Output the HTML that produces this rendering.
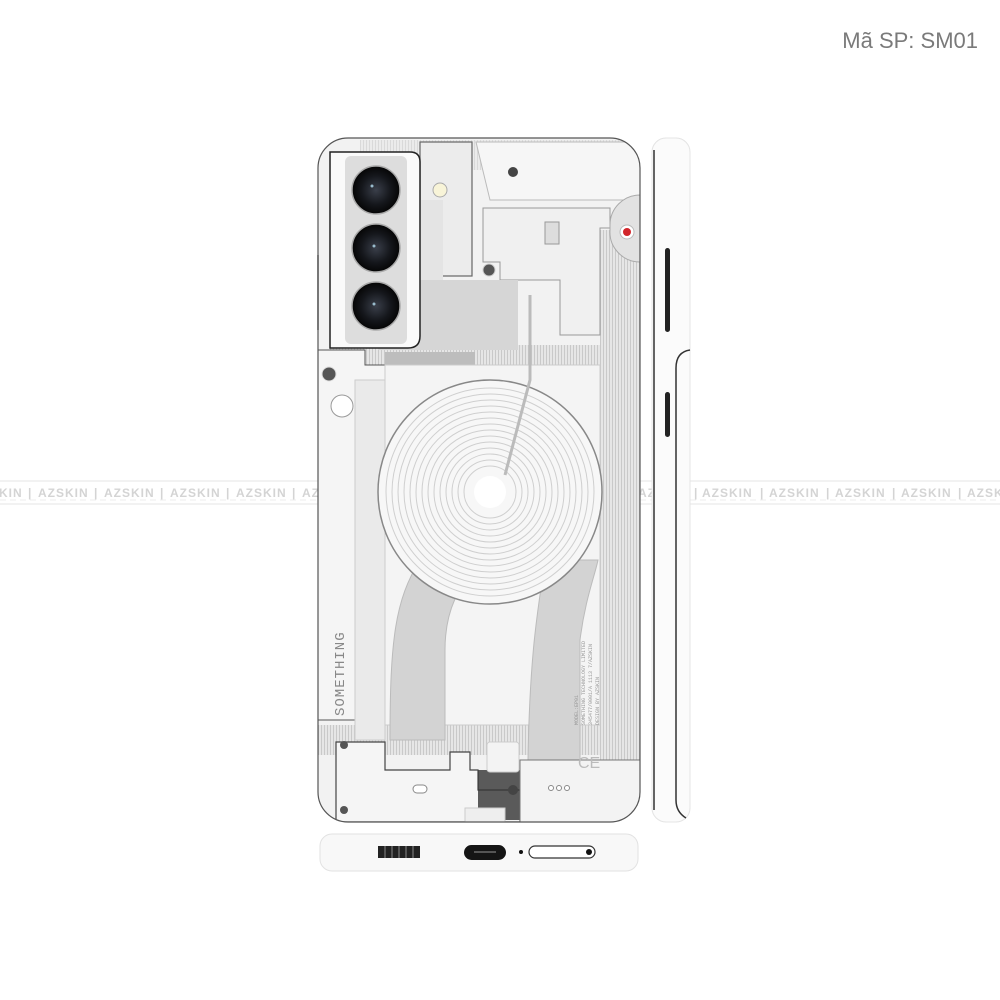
<!DOCTYPE html>
<html><head><meta charset="utf-8"><style>
html,body{margin:0;padding:0;background:#fff;width:1000px;height:1000px;overflow:hidden}
svg{display:block}
</style></head><body>
<svg width="1000" height="1000" viewBox="0 0 1000 1000" xmlns="http://www.w3.org/2000/svg" font-family="Liberation Sans, sans-serif">
<defs>
<pattern id="hatch" width="3" height="3" patternUnits="userSpaceOnUse"><rect width="3" height="3" fill="#e6e6e6"/><rect width="1" height="3" fill="#c9c9c9"/></pattern>
<radialGradient id="lens" cx="50%" cy="50%" r="50%"><stop offset="0" stop-color="#3a3f4a"/><stop offset="0.6" stop-color="#15171c"/><stop offset="1" stop-color="#050505"/></radialGradient>
<clipPath id="phone"><rect x="318" y="138" width="322" height="684" rx="30"/></clipPath>
</defs>
<!-- title -->
<text x="978" y="48" text-anchor="end" font-size="22" fill="#7a7a7a">Mã SP: SM01</text>
<!-- watermark strip -->
<line x1="0" y1="481" x2="1000" y2="481" stroke="#e6e6e6" stroke-width="1"/>
<line x1="0" y1="504" x2="1000" y2="504" stroke="#e6e6e6" stroke-width="1"/>
<line x1="0" y1="500" x2="1000" y2="500" stroke="#eeeeee" stroke-width="1" stroke-dasharray="6 4"/>
<g font-size="12" fill="#d4d4d4" font-weight="bold" letter-spacing="1">
<text x="-28" y="497">AZSKIN</text><text x="28" y="497">|</text>
<text x="38" y="497">AZSKIN</text><text x="94" y="497">|</text>
<text x="104" y="497">AZSKIN</text><text x="160" y="497">|</text>
<text x="170" y="497">AZSKIN</text><text x="226" y="497">|</text>
<text x="236" y="497">AZSKIN</text><text x="292" y="497">|</text>
<text x="302" y="497">AZSKIN</text>
<text x="638" y="497">AZSKIN</text><text x="694" y="497">|</text>
<text x="702" y="497">AZSKIN</text><text x="760" y="497">|</text>
<text x="769" y="497">AZSKIN</text><text x="826" y="497">|</text>
<text x="835" y="497">AZSKIN</text><text x="892" y="497">|</text>
<text x="901" y="497">AZSKIN</text><text x="958" y="497">|</text>
<text x="967" y="497">AZSKIN</text>
</g>
<!-- phone back -->
<g clip-path="url(#phone)">
<rect x="318" y="138" width="322" height="684" fill="#f2f2f2"/>
<rect x="600" y="230" width="40" height="600" fill="url(#hatch)"/>
<rect x="360" y="140" width="280" height="30" fill="url(#hatch)" opacity="0.6"/>
<rect x="330" y="345" width="290" height="30" fill="url(#hatch)"/>
<rect x="318" y="725" width="322" height="30" fill="url(#hatch)"/>
<path d="M476 142 H640 V200 H490 Z" fill="#f6f6f6" stroke="#bbb"/>
<path d="M483 208 H610 V228 H600 V335 H560 V280 H500 V262 H483 Z" fill="#f0f0f0" stroke="#999"/>
<rect x="545" y="222" width="14" height="22" fill="#ddd" stroke="#999"/>
<path d="M640 195 A30 30 0 0 0 610 225 V230 A30 30 0 0 0 640 262 Z" fill="#e2e2e2" stroke="#aaa"/>
<circle cx="627" cy="232" r="7" fill="#fff" stroke="#bbb"/><circle cx="627" cy="232" r="4" fill="#d2262b"/>
<circle cx="513" cy="172" r="5" fill="#444"/>
<circle cx="489" cy="270" r="6" fill="#555" stroke="#ccc"/>
<rect x="378" y="280" width="140" height="70" fill="#d6d6d6"/>
<rect x="385" y="352" width="90" height="20" fill="#bdbdbd"/>
<rect x="420" y="142" width="52" height="134" fill="#ececec" stroke="#666" stroke-width="1.2"/>
<rect x="403" y="200" width="40" height="80" fill="#e4e4e4"/>
<circle cx="440" cy="190" r="7" fill="#f8f4d8" stroke="#aaa"/>
<path d="M318 350 H365 V365 H400 V380 H370 V720 H318 Z" fill="#f5f5f5" stroke="#555" stroke-width="1"/>
<circle cx="329" cy="374" r="7" fill="#555" stroke="#ddd"/>
<circle cx="342" cy="406" r="11" fill="#fff" stroke="#999"/>
<circle cx="367" cy="400" r="5" fill="#fff" stroke="#999"/><circle cx="367" cy="413" r="5" fill="#fff" stroke="#999"/>
<rect x="355" y="380" width="30" height="360" fill="#eaeaea" stroke="#ccc"/>
<rect x="385" y="365" width="215" height="360" fill="#f4f4f4" stroke="#ccc"/>
<path d="M420 560 C395 600 390 640 390 740 H445 V650 C445 610 460 585 475 570 Z" fill="#d3d3d3" stroke="#bbb"/>
<path d="M545 560 C540 600 530 640 528 760 H580 V640 C585 600 595 575 598 560 Z" fill="#d3d3d3" stroke="#bbb"/>
<circle cx="490" cy="492" r="112" fill="#f7f7f7" stroke="#888" stroke-width="1.5"/>
<g fill="none" stroke="#cfcfcf" stroke-width="1">
<circle cx="490" cy="492" r="104"/><circle cx="490" cy="492" r="98"/><circle cx="490" cy="492" r="92"/><circle cx="490" cy="492" r="86"/><circle cx="490" cy="492" r="80"/><circle cx="490" cy="492" r="74"/><circle cx="490" cy="492" r="68"/><circle cx="490" cy="492" r="62"/><circle cx="490" cy="492" r="56"/><circle cx="490" cy="492" r="50"/><circle cx="490" cy="492" r="44"/><circle cx="490" cy="492" r="38"/><circle cx="490" cy="492" r="32"/><circle cx="490" cy="492" r="26"/>
</g>
<circle cx="490" cy="492" r="16" fill="#fff"/>
<path d="M505 475 L530 380 V295" stroke="#bbb" stroke-width="3" fill="none"/>
<path d="M336 742 H385 V770 H450 V752 H470 V770 H478 V790 H520 V822 H336 Z" fill="#f5f5f5" stroke="#444" stroke-width="1.2"/>
<path d="M478 770 H520 V820 H478 Z" fill="#333" opacity="0.8"/>
<path d="M520 760 H640 V822 H520 Z" fill="#f3f3f3" stroke="#777"/>
<rect x="487" y="742" width="32" height="30" rx="3" fill="#f3f3f3" stroke="#ccc"/>
<rect x="465" y="808" width="40" height="14" fill="#eee" stroke="#ccc"/>
<rect x="413" y="785" width="14" height="8" rx="4" fill="#fff" stroke="#888"/>
<circle cx="513" cy="790" r="5" fill="#444"/>
<circle cx="344" cy="745" r="4" fill="#555"/><circle cx="344" cy="810" r="4" fill="#555"/>
<g fill="#fff" stroke="#888"><circle cx="551" cy="788" r="2.5"/><circle cx="559" cy="788" r="2.5"/><circle cx="567" cy="788" r="2.5"/></g>
<text transform="translate(344 716) rotate(-90)" font-family="Liberation Mono, monospace" font-size="14" fill="#888" letter-spacing="1">SOMETHING</text>
<g font-size="5" fill="#999" font-family="Liberation Mono, monospace">
<text transform="translate(578 725) rotate(-90)">MODEL:EP01</text>
<text transform="translate(585 725) rotate(-90)">SOMETHING TECHNOLOGY LIMITED</text>
<text transform="translate(592 725) rotate(-90)">345477/0001/A 1113 7/AZSKIN</text>
<text transform="translate(599 725) rotate(-90)">DESIGN BY AZSKIN</text>
</g>
<text x="578" y="768" font-size="16" fill="#bbb">CE</text>
</g>
<path d="M330 152 H410 Q420 152 420 162 V336 Q420 348 408 348 H330 Z" fill="#fafafa" stroke="#222" stroke-width="1.5"/>
<rect x="345" y="156" width="62" height="188" rx="6" fill="#ddd"/>
<circle cx="376" cy="190" r="24" fill="url(#lens)" stroke="#aaa" stroke-width="1.5"/>
<circle cx="376" cy="248" r="24" fill="url(#lens)" stroke="#aaa" stroke-width="1.5"/>
<circle cx="376" cy="306" r="24" fill="url(#lens)" stroke="#aaa" stroke-width="1.5"/>
<circle cx="372" cy="186" r="1.5" fill="#9bc"/><circle cx="374" cy="246" r="1.5" fill="#9bc"/><circle cx="374" cy="304" r="1.5" fill="#9bc"/>
<rect x="318" y="138" width="322" height="684" rx="30" fill="none" stroke="#555" stroke-width="1.2"/>
<line x1="318" y1="255" x2="318" y2="330" stroke="#777" stroke-width="2"/>
<!-- side view -->
<rect x="652" y="138" width="38" height="684" rx="14" fill="#fbfbfb" stroke="#e4e4e4"/>
<line x1="654" y1="150" x2="654" y2="810" stroke="#333" stroke-width="1.5"/>
<path d="M690 350 Q676 352 676 368 V800 Q676 812 686 818" fill="none" stroke="#333" stroke-width="1.5"/>
<rect x="665" y="248" width="5" height="84" rx="2.5" fill="#222"/>
<rect x="665" y="392" width="5" height="45" rx="2.5" fill="#222"/>
<!-- bottom view -->
<rect x="320" y="834" width="318" height="37" rx="12" fill="#f8f8f8" stroke="#e2e2e2"/>
<rect x="378" y="846" width="42" height="12" fill="#222"/>
<g stroke="#888" stroke-width="1"><line x1="385" y1="846" x2="385" y2="858"/><line x1="392" y1="846" x2="392" y2="858"/><line x1="399" y1="846" x2="399" y2="858"/><line x1="406" y1="846" x2="406" y2="858"/><line x1="413" y1="846" x2="413" y2="858"/></g>
<rect x="464" y="845" width="42" height="15" rx="7.5" fill="#151515"/>
<rect x="474" y="851" width="22" height="2" fill="#555"/>
<circle cx="521" cy="852" r="2" fill="#111"/>
<rect x="529" y="846" width="66" height="12" rx="6" fill="#fff" stroke="#333" stroke-width="1.2"/>
<circle cx="589" cy="852" r="3" fill="#111"/>
</svg>
</body></html>
